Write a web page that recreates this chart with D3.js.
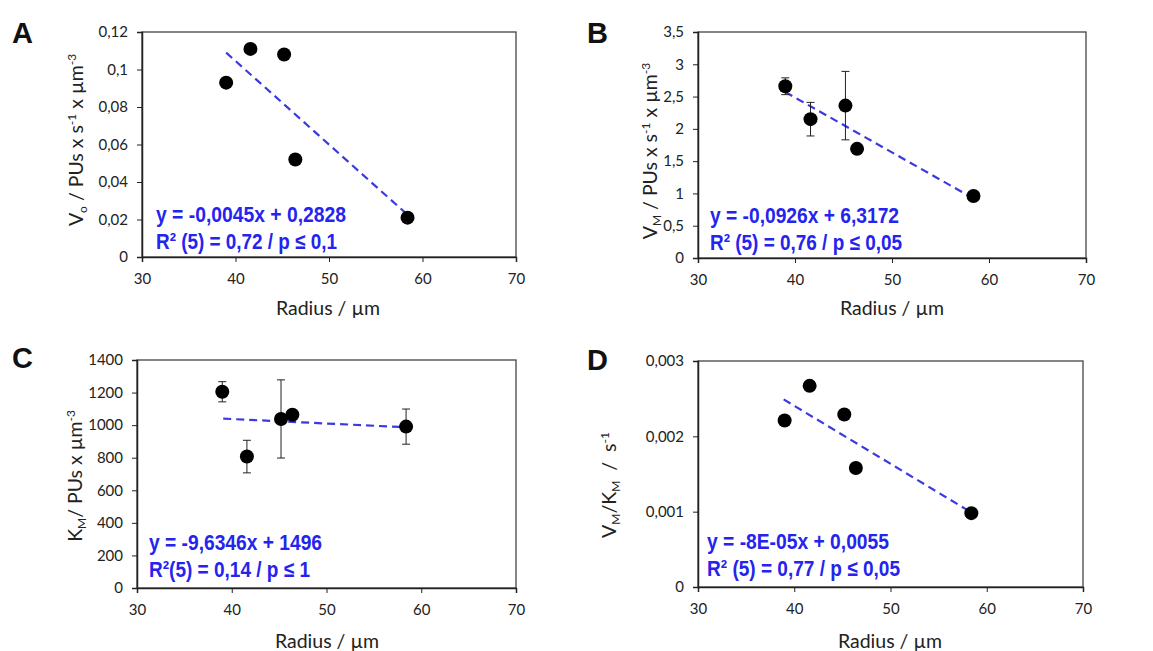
<!DOCTYPE html>
<html>
<head>
  <meta charset="utf-8">
  <title>Radius kinetics</title>
  <script src="https://d3js.org/d3.v7.min.js"></script>
  <style>
    body { margin: 0; background: #fff; }
    .tick text { font-family: Lato, "Open Sans", sans-serif; font-size: 15px; fill: #222; }
    .ttl { font-family: Lato, "Open Sans", sans-serif; font-size: 19.5px; fill: #222; }
    .eq { font-family: "Liberation Sans", Arial, sans-serif; font-weight: bold; font-size: 22px; fill: #2424ee; }
    .lbl { font-family: "Liberation Sans", Arial, sans-serif; font-weight: bold; font-size: 29px; fill: #111; }
  </style>
</head>
<body>
<script>
// data
var radius  = [39.0, 41.6, 45.2, 46.4, 58.4];
var vo      = [0.093, 0.111, 0.108, 0.052, 0.021];
var vm      = [2.66, 2.15, 2.36, 1.69, 0.96];
var vmErr   = [0.13, 0.26, 0.53, 0.04, 0.05];
var km      = [1205, 807, 1038, 1064, 991];
var kmErr   = [62, 100, 240, 0, 108];
var vmkm    = [0.00221, 0.00267, 0.00229, 0.00158, 0.00098];

// trend line end points (x0, y0, x1, y1) as drawn
var trendA = [39.0, 0.109, 58.3, 0.023];
var trendB = [39.0, 2.57, 58.3, 0.93];
var trendC = [39.1, 1040, 58.4, 987];
var trendD = [38.9, 0.00249, 58.0, 0.00102];

var xTicks  = [30, 40, 50, 60, 70];
var yTicksA = [0, 0.02, 0.04, 0.06, 0.08, 0.1, 0.12];
var yTicksB = [0, 0.5, 1, 1.5, 2, 2.5, 3, 3.5];
var yTicksC = [0, 200, 400, 600, 800, 1000, 1200, 1400];
var yTicksD = [0, 0.001, 0.002, 0.003];

var eqA = ["y = -0,0045x + 0,2828", "R² (5) = 0,72 / p ≤ 0,1"];
var eqB = ["y = -0,0926x + 6,3172", "R² (5) = 0,76 / p ≤ 0,05"];
var eqC = ["y = -9,6346x + 1496", "R²(5) = 0,14 / p ≤ 1"];
var eqD = ["y = -8E-05x + 0,0055", "R² (5) = 0,77 / p ≤ 0,05"];

var fmt = d3.formatLocale({decimal: ",", thousands: "", grouping: [3], currency: ["", ""]}).format("~g");

var svg = d3.select("body").append("svg").attr("width", 1153).attr("height", 651);

var panels = [
  {lab: "A", y: vo, err: null, trend: trendA, yt: yTicksA, eq: eqA, eqW: [190, 181],
   box: [142, 32, 516, 257], labPos: [12, 43], eqPos: [156, 222], xt: [328, 315], yTitle: [83, 140],
   title: [["V", 0], ["o", -1], [" / PUs x s", 0], ["-1", 1], [" x µm", 0], ["-3", 1]]},
  {lab: "B", y: vm, err: vmErr, trend: trendB, yt: yTicksB, eq: eqB, eqW: [189, 192],
   box: [698, 32, 1086, 258], labPos: [587, 43], eqPos: [710, 223], xt: [892, 315], yTitle: [657, 151],
   title: [["V", 0], ["M", -1], [" / PUs x s", 0], ["-1", 1], [" x µm", 0], ["-3", 1]]},
  {lab: "C", y: km, err: kmErr, trend: trendC, yt: yTicksC, eq: eqC, eqW: [173, 161],
   box: [137, 360, 516, 588], labPos: [12, 368], eqPos: [149, 550], xt: [327, 648], yTitle: [82, 476],
   title: [["K", 0], ["M", -1], ["/ PUs x µm", 0], ["-3", 1]]},
  {lab: "D", y: vmkm, err: null, trend: trendD, yt: yTicksD, eq: eqD, eqW: [182, 193],
   box: [698, 361, 1083, 587], labPos: [587, 370], eqPos: [707, 549], xt: [890, 648], yTitle: [616, 485],
   title: [["V", 0], ["M", -1], ["/K", 0], ["M", -1], ["\u00a0\u00a0/\u00a0\u00a0s", 0], ["-1", 1]]}
];

panels.forEach(function(p) {
  var b = p.box;
  var x = d3.scaleLinear().domain([30, 70]).range([b[0], b[2]]);
  var y = d3.scaleLinear().domain([0, d3.max(p.yt)]).range([b[3], b[1]]);
  var g = svg.append("g");

  // frame
  g.append("rect").attr("x", b[0]).attr("y", b[1]).attr("width", b[2] - b[0]).attr("height", b[3] - b[1])
    .attr("fill", "none").attr("stroke", "#444").attr("stroke-width", 1.3);

  var xa = g.append("g").attr("transform", "translate(0," + b[3] + ")")
    .call(d3.axisBottom(x).tickValues(xTicks).tickSize(5).tickPadding(11).tickFormat(fmt));
  var ya = g.append("g").attr("transform", "translate(" + b[0] + ",0)")
    .call(d3.axisLeft(y).tickValues(p.yt).tickSize(5).tickPadding(9).tickFormat(fmt));
  [xa, ya].forEach(function(a) {
    a.select(".domain").attr("stroke", "#222").attr("stroke-width", 1.5);
    a.selectAll(".tick line").attr("stroke", "#222");
  });

  // trend
  var t = p.trend;
  g.append("line").attr("x1", x(t[0])).attr("y1", y(t[1])).attr("x2", x(t[2])).attr("y2", y(t[3]))
    .attr("stroke", "#3a3ae0").attr("stroke-width", 2.2).attr("stroke-dasharray", "8,5");

  var pts = radius.map(function(r, i) { return {x: r, y: p.y[i], e: p.err ? p.err[i] : 0}; });

  // error bars
  if (p.err) {
    var eb = g.selectAll(".eb").data(pts.filter(function(d) { return d.e > 0; })).enter().append("g");
    eb.append("line").attr("x1", function(d) { return x(d.x); }).attr("x2", function(d) { return x(d.x); })
      .attr("y1", function(d) { return y(d.y - d.e); }).attr("y2", function(d) { return y(d.y + d.e); })
      .attr("stroke", "#222").attr("stroke-width", 1);
    [-1, 1].forEach(function(s) {
      eb.append("line").attr("x1", function(d) { return x(d.x) - 4; }).attr("x2", function(d) { return x(d.x) + 4; })
        .attr("y1", function(d) { return y(d.y + s * d.e); }).attr("y2", function(d) { return y(d.y + s * d.e); })
        .attr("stroke", "#222").attr("stroke-width", 1);
    });
  }

  g.selectAll("circle").data(pts).enter().append("circle")
    .attr("cx", function(d) { return x(d.x); }).attr("cy", function(d) { return y(d.y); })
    .attr("r", 7).attr("fill", "#000");

  // equation, squeezed to the narrow look of the original
  p.eq.forEach(function(s, i) {
    g.append("text").attr("class", "eq").attr("x", p.eqPos[0]).attr("y", p.eqPos[1] + i * 27)
      .attr("textLength", p.eqW[i]).attr("lengthAdjust", "spacingAndGlyphs").text(s);
  });

  // titles
  g.append("text").attr("class", "ttl").attr("x", p.xt[0]).attr("y", p.xt[1])
    .attr("text-anchor", "middle").text("Radius / µm");
  var yt = g.append("text").attr("class", "ttl").attr("text-anchor", "middle")
    .attr("transform", "translate(" + p.yTitle[0] + "," + p.yTitle[1] + ") rotate(-90)");
  var cur = 0;
  p.title.forEach(function(part) {
    var target = part[1] > 0 ? -7 : (part[1] < 0 ? 4 : 0);
    var ts = yt.append("tspan").attr("dy", target - cur).text(part[0]);
    if (part[1] !== 0) ts.attr("font-size", "12px");
    cur = target;
  });

  g.append("text").attr("class", "lbl").attr("x", p.labPos[0]).attr("y", p.labPos[1]).text(p.lab);
});
</script>
</body>
</html>
